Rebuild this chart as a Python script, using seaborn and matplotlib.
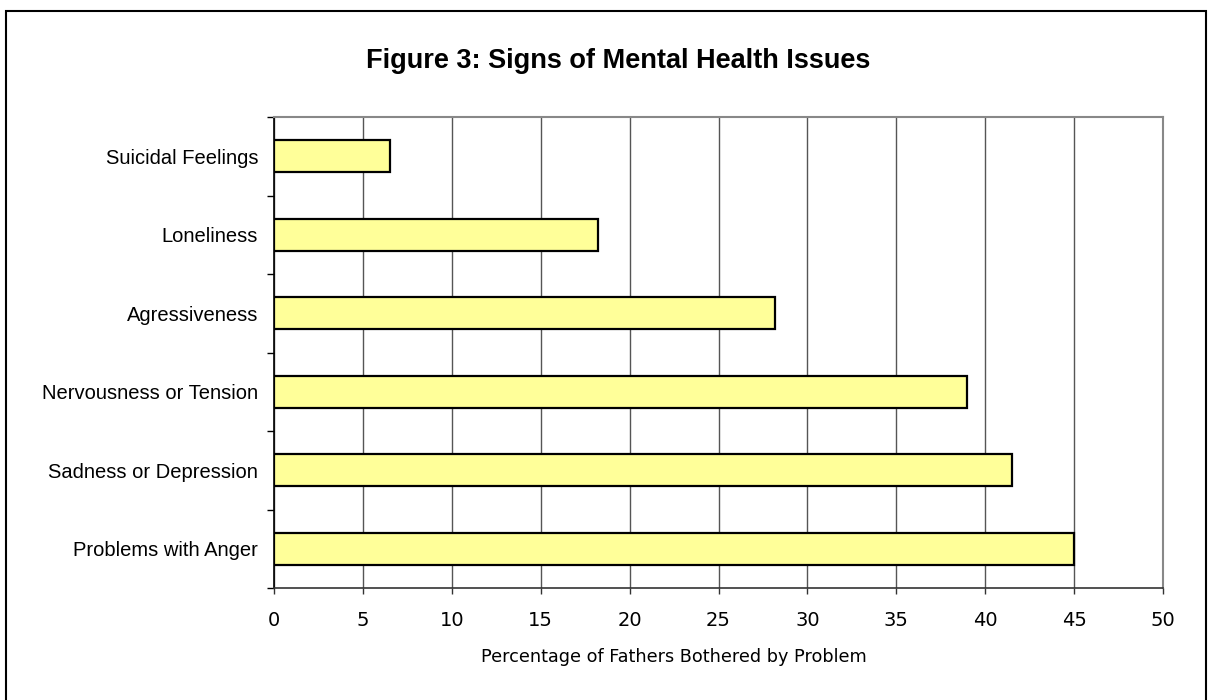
import matplotlib
matplotlib.use("Agg")
import matplotlib.pyplot as plt
import seaborn as sns
import pandas as pd
from matplotlib.patches import Rectangle
from matplotlib.ticker import FixedLocator

categories = ["Suicidal Feelings", "Loneliness", "Agressiveness",
              "Nervousness or Tension", "Sadness or Depression", "Problems with Anger"]
values = [6.5, 18.2, 28.2, 39.0, 41.5, 45.0]
x_ticks = [0, 5, 10, 15, 20, 25, 30, 35, 40, 45, 50]

title = "Figure 3: Signs of Mental Health Issues"
xlabel = "Percentage of Fathers Bothered by Problem"

df = pd.DataFrame({"category": categories, "value": values})

sns.set_theme(style="white")
plt.rcParams["font.family"] = ["Liberation Sans", "DejaVu Sans"]
plt.rcParams["text.color"] = "black"
plt.rcParams["xtick.color"] = "black"
plt.rcParams["ytick.color"] = "black"

fig = plt.figure(figsize=(12.09, 7.0), dpi=100)
ax = fig.add_axes([274/1209, 1-588/700, (1163-274)/1209, (588-117)/700])

sns.barplot(data=df, x="value", y="category", orient="h", color="#FFFF99",
            edgecolor="black", linewidth=1.6, width=0.41, saturation=1, ax=ax)

ax.set_xlim(0, 50)
ax.set_ylim(len(categories) - 0.5, -0.5)
ax.set_xticks(x_ticks)
ax.set_xticklabels([str(t) for t in x_ticks], family="DejaVu Sans", fontsize=14)
ax.xaxis.grid(True, color="#555555", linewidth=1.0)
ax.set_axisbelow(True)

ax.yaxis.set_minor_locator(FixedLocator([i - 0.5 for i in range(len(categories) + 1)]))
ax.tick_params(axis="y", which="major", length=0, pad=11.5, labelsize=14.5, labelcolor="black")
ax.tick_params(axis="y", which="minor", left=True, length=5, width=1, color="black")
ax.tick_params(axis="x", which="major", bottom=True, length=4.5, width=1, color="#333333",
               pad=12, labelcolor="black")

ax.set_ylabel("")
ax.set_xlabel("")

ax.spines["left"].set_color("black")
ax.spines["left"].set_linewidth(1.2)
ax.spines["bottom"].set_color("#333333")
ax.spines["bottom"].set_linewidth(1.2)
for s in ["top", "right"]:
    ax.spines[s].set_color("#888888")
    ax.spines[s].set_linewidth(1.5)

fig.text(674/1209, 1-657/700, xlabel, ha="center", va="center",
         fontsize=12.7, family="DejaVu Sans", color="black")

fig.text(618/1209, 1-61/700, title, ha="center", va="center",
         fontsize=19.5, fontweight="bold", family="Liberation Sans", color="black")

fig.patches.append(Rectangle((6/1209, -0.01), 1200/1209, 1 - 11/700 + 0.01,
                             transform=fig.transFigure, fill=False,
                             edgecolor="black", linewidth=1.5))

fig.savefig("out.png", dpi=100, facecolor="white")
